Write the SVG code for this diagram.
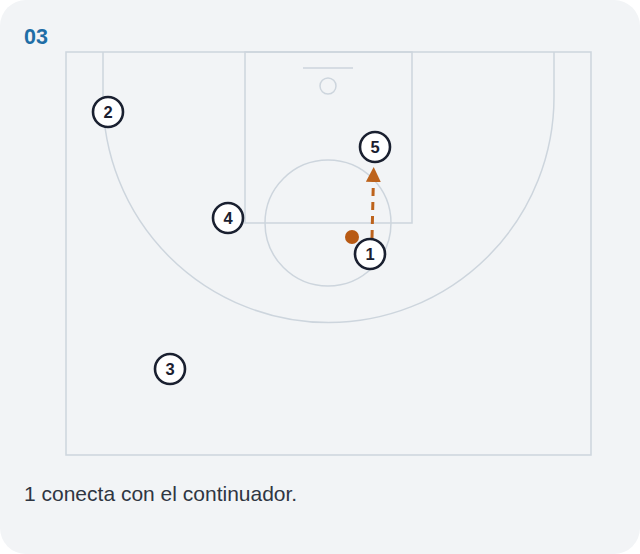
<svg xmlns="http://www.w3.org/2000/svg" width="640" height="554" viewBox="0 0 640 554">
<style>
.court{fill:none;stroke:#cdd5dd;stroke-width:1.5}
.p circle{fill:#fff;stroke:#1a2030;stroke-width:2.6}
.p text{font-family:"Liberation Sans",Arial,sans-serif;font-weight:bold;font-size:16.5px;fill:#1a2030;text-anchor:middle}
</style>
<defs>
<marker id="ah" viewBox="0 0 10 10" refX="4" refY="5" markerWidth="5" markerHeight="5" orient="auto" markerUnits="strokeWidth">
<path d="M0,0 L10,5 L0,10 z" fill="#bd631c"/>
</marker>
</defs>
<rect x="0" y="0" width="640" height="554" fill="#ffffff"/>
<rect x="0" y="0" width="640" height="554" rx="26" fill="#f2f4f6"/>
<text x="24" y="44" font-family="Liberation Sans,Arial,sans-serif" font-weight="bold" font-size="21.5" fill="#1f6ea6">03</text>
<g id="court">
<rect class="court" x="66" y="52" width="525" height="403"/>
<rect class="court" x="245" y="52" width="167" height="171"/>
<circle class="court" cx="328" cy="223" r="63"/>
<line class="court" x1="303" y1="68" x2="353" y2="68"/>
<circle class="court" cx="328" cy="86" r="8"/>
<path class="court" d="M103,52 L103,97 A225.5,225.5 0 0 0 554,97 L554,52"/>
</g>
<g id="connectors">
<line x1="372" y1="238" x2="373.5" y2="176" stroke="#bd631c" stroke-width="3" stroke-dasharray="8,6" marker-end="url(#ah)"/>
</g>
<g id="ball"><circle cx="352" cy="237" r="7" fill="#b85a14"/></g>
<g id="p2" class="p"><circle cx="108" cy="112" r="15"/><text x="108" y="118">2</text></g>
<g id="p5" class="p"><circle cx="375" cy="147" r="15"/><text x="375" y="153">5</text></g>
<g id="p4" class="p"><circle cx="228" cy="218" r="15"/><text x="228" y="224">4</text></g>
<g id="p1" class="p"><circle cx="370" cy="254" r="15"/><text x="370" y="260">1</text></g>
<g id="p3" class="p"><circle cx="170" cy="369" r="15"/><text x="170" y="375">3</text></g>
<text x="24" y="501" font-family="Liberation Sans,Arial,sans-serif" font-size="21" fill="#2f3642">1 conecta con el continuador.</text>
</svg>
